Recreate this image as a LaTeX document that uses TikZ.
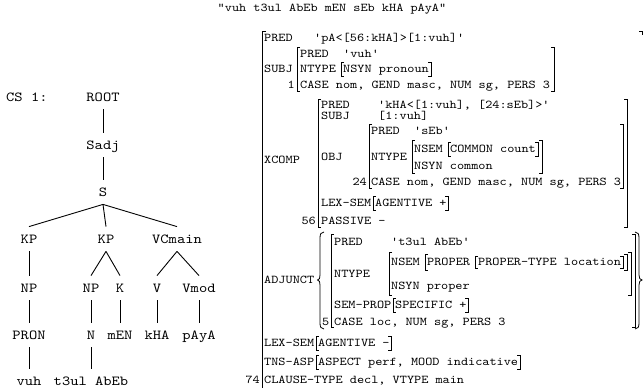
\documentclass[tikz,border=0pt]{standalone}
\usepackage{fontspec}
\newfontfamily\lmmono{lmmono10-regular}[Extension=.otf, FakeStretch=1.143]
\newcommand\fsfont{\lmmono\fontsize{11.9pt}{13pt}\selectfont}
\newcommand\trfont{\lmmono\fontsize{13.8pt}{15pt}\selectfont}
\newcommand\fslb[3]{\draw[brk] (#1+3,#2) -- (#1,#2) -- (#1,#3) -- (#1+3,#3);}
\newcommand\fsrb[3]{\draw[brk] (#1-3,#2) -- (#1,#2) -- (#1,#3) -- (#1-3,#3);}
\begin{document}
\begin{tikzpicture}[x=1pt,y=-1pt,
  fs/.style={font=\fsfont, inner sep=0pt, anchor=west, text height=7.3pt, text depth=0pt},
  fsr/.style={fs, anchor=east},
  tr/.style={font=\trfont, inner xsep=0pt, inner ysep=8pt, text height=8.4pt, text depth=0pt},
  treeline/.style={draw=black, line width=0.9pt},
  brk/.style={draw=black, line width=0.8pt},
]
\fill[white] (0,0) rectangle (643,388);
\useasboundingbox (0,0) rectangle (643,388);

% ---------- sentence ----------
\node[fs, anchor=center] (title) at (332,8) {"vuh t3ul AbEb mEN sEb kHA pAyA"};

% ---------- c-structure ----------
\node[tr, anchor=west] (cs) at (6,97) {CS 1:};
\node[tr] (root) at (103,97) {ROOT};
\node[tr] (sadj) at (103,145) {Sadj};
\node[tr] (s) at (103,192) {S};
\node[tr] (kp1) at (29,239) {KP};
\node[tr] (kp2) at (106,239) {KP};
\node[tr] (vcm) at (177,239) {VCmain};
\node[tr] (np1) at (29,288) {NP};
\node[tr] (np2) at (91,288) {NP};
\node[tr] (k) at (120,288) {K};
\node[tr] (v) at (157,288) {V};
\node[tr] (vmod) at (199,288) {Vmod};
\node[tr] (pron) at (29,335) {PRON};
\node[tr] (n) at (91,335) {N};
\node[tr] (men) at (120,335) {mEN};
\node[tr] (kha) at (157,335) {kHA};
\node[tr] (paya) at (199,335) {pAyA};
\node[tr] (vuh) at (29,381) {vuh};
\node[tr] (t3ul) at (91,381) {t3ul AbEb};

\draw[treeline] (root.south) -- (sadj.north);
\draw[treeline] (sadj.south) -- (s.north);
\draw[treeline] (s.south) -- (kp1.north);
\draw[treeline] (s.south) -- (kp2.north);
\draw[treeline] (s.south) -- (vcm.north);
\draw[treeline] (kp1.south) -- (np1.north);
\draw[treeline] (kp2.south) -- (np2.north);
\draw[treeline] (kp2.south) -- (k.north);
\draw[treeline] (vcm.south) -- (v.north);
\draw[treeline] (vcm.south) -- (vmod.north);
\draw[treeline] (np1.south) -- (pron.north);
\draw[treeline] (np2.south) -- (n.north);
\draw[treeline] (k.south) -- (men.north);
\draw[treeline] (v.south) -- (kha.north);
\draw[treeline] (vmod.south) -- (paya.north);
\draw[treeline] (pron.south) -- (vuh.north);
\draw[treeline] (n.south) -- (t3ul.north);

% ---------- f-structure ----------
\draw[brk] (266,31) -- (262,31) -- (262,392);
\draw[brk] (639,31) -- (642,31) -- (642,35);

% PRED
\node[fs] (opl) at (264,38) {PRED};
\node[fs] (opv) at (314,38) {'pA<[56:kHA]>[1:vuh]'};

% SUBJ
\node[fs] (osl) at (264,69) {SUBJ};
\fslb{297}{47}{91}
\fsrb{554}{47}{91}
\node[fs] (spl) at (300,54) {PRED};
\node[fs] (spv) at (343,54) {'vuh'};
\node[fs] (sntl) at (300,69) {NTYPE};
\fslb{341}{62}{76}
\node[fs] (snsyn) at (343,69) {NSYN pronoun};
\fsrb{431}{62}{76}
\node[fsr] (snum) at (295,85) {1};
\node[fs] (scase) at (300,85) {CASE nom, GEND masc, NUM sg, PERS 3};

% XCOMP
\node[fs] (oxl) at (264,160) {XCOMP};
\fslb{318}{99}{227}
\fsrb{627}{99}{227}
\node[fs] (xpl) at (321,105) {PRED};
\node[fs] (xpv) at (378,105) {'kHA<[1:vuh], [24:sEb]>'};
\node[fs] (xsl) at (321,116) {SUBJ};
\node[fs] (xsv) at (378,116) {[1:vuh]};
\node[fs] (xol) at (321,157) {OBJ};
\fslb{369}{124}{188}
\fsrb{623}{124}{188}
\node[fs] (opredl) at (371,131) {PRED};
\node[fs] (opredv) at (414,131) {'sEb'};
\node[fs] (ontl) at (371,157) {NTYPE};
\fslb{412}{140}{173}
\fsrb{542}{140}{173}
\node[fs] (onsem) at (414,149) {NSEM};
\fslb{448}{142}{156}
\node[fs] (ocommon) at (450,149) {COMMON count};
\fsrb{538}{142}{156}
\node[fs] (onsyn) at (414,166) {NSYN common};
\node[fsr] (onum) at (367,182) {24};
\node[fs] (ocase) at (371,182) {CASE nom, GEND masc, NUM sg, PERS 3};
\node[fs] (xlexl) at (321,203) {LEX-SEM};
\fslb{373}{196}{210}
\node[fs] (xlexv) at (375,203) {AGENTIVE +};
\fsrb{448}{196}{210}
\node[fsr] (xnum) at (316,221) {56};
\node[fs] (xpass) at (321,221) {PASSIVE -};

% ADJUNCT
\node[fs] (oadl) at (264,280) {ADJUNCT};
\draw[brk] (324,232) .. controls (321,232) and (320,234) .. (320,238) -- (320,275)
  .. controls (320,278) and (319.5,280) .. (317.5,280)
  .. controls (319.5,280) and (320,282) .. (320,285) -- (320,323)
  .. controls (320,327) and (321,329) .. (324,329);
\draw[brk] (635,232) .. controls (638,232) and (639,234) .. (639,238) -- (639,275)
  .. controls (639,278) and (640,280) .. (642,280)
  .. controls (640,280) and (639,282) .. (639,285) -- (639,323)
  .. controls (639,327) and (638,329) .. (635,329);
\fslb{331}{234}{327}
\fsrb{635}{234}{327}
\node[fs] (apl) at (334,242) {PRED};
\node[fs] (apv) at (391,242) {'t3ul AbEb'};
\node[fs] (antl) at (334,274) {NTYPE};
\fslb{389}{252}{295}
\fsrb{631}{252}{295}
\node[fs] (ansem) at (391,262) {NSEM};
\fslb{425}{254}{270}
\node[fs] (aproper) at (427,262) {PROPER};
\fslb{475}{256}{268}
\node[fs] (aptype) at (478,262) {PROPER-TYPE location};
\fsrb{623}{256}{268}
\fsrb{627}{254}{270}
\node[fs] (ansyn) at (391,286) {NSYN proper};
\node[fs] (asempl) at (334,305) {SEM-PROP};
\fslb{393}{298}{312}
\node[fs] (asempv) at (395,305) {SPECIFIC +};
\fsrb{468}{298}{312}
\node[fsr] (anum) at (329.5,322) {5};
\node[fs] (acase) at (334,322) {CASE loc, NUM sg, PERS 3};

% LEX-SEM, TNS-ASP, CLAUSE-TYPE
\node[fs] (olexl) at (264,343) {LEX-SEM};
\fslb{316}{336}{350}
\node[fs] (olexv) at (318,343) {AGENTIVE -};
\fsrb{391}{336}{350}
\node[fs] (otnsl) at (264,362) {TNS-ASP};
\fslb{316}{355}{369}
\node[fs] (otnsv) at (318,362) {ASPECT perf, MOOD indicative};
\fsrb{520}{355}{369}
\node[fsr] (onum74) at (260,380) {74};
\node[fs] (oclause) at (264,380) {CLAUSE-TYPE decl, VTYPE main};
\end{tikzpicture}
\end{document}
